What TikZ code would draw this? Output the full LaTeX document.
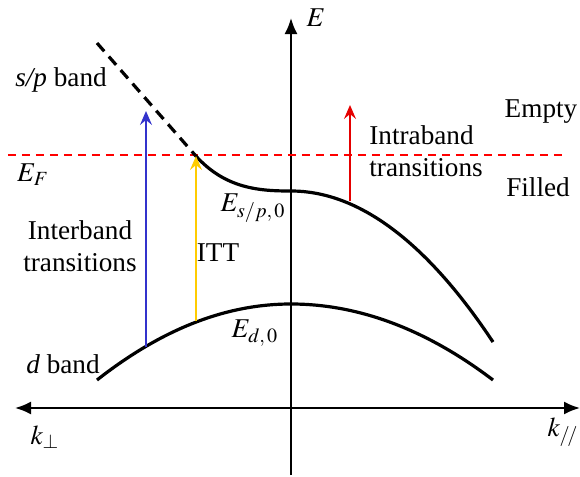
\documentclass[tikz,border=0pt]{standalone}
\usepackage{mathptmx}
\usepackage{fontspec}
\setmainfont{Liberation Serif}
\usepackage{tikz}
\usetikzlibrary{positioning,arrows.meta}

\begin{document}
\begin{tikzpicture}[x=0.5pt,y=-0.5pt,
    font=\fontsize{13.6}{16}\selectfont,
    band/.style={line width=1.6pt},
    axis/.style={line width=1pt},
    trans/.style={line width=0.8pt,-{Stealth[length=7pt,width=6pt,inset=2.5pt]}},
    lbl/.style={inner sep=0pt}]
  \useasboundingbox (0,0) rectangle (580,477);
  % axes
  \coordinate (eb) at (291,475);
  \coordinate (et) at (291,18);
  \coordinate (kl) at (15,408);
  \coordinate (kr) at (580,408);
  \draw[axis,-{Latex[length=8pt,width=6.5pt]}] (eb) -- (et);
  \draw[axis,{Latex[length=8pt,width=6.5pt]}-{Latex[length=8pt,width=6.5pt]}] (kl) -- (kr);
  \node[lbl] (E) at (316,18) {$E$};
  \node[lbl] (kperp) at (45,437) {$k_{\perp}$};
  \node[lbl] (kpar) at (563,432) {$k_{/\!/}$};
  % Fermi level
  \coordinate (fl) at (8,155);
  \coordinate (fr) at (565,155);
  \draw[red,line width=0.8pt,dash pattern=on 4pt off 3pt] (fl) -- (fr);
  \node[lbl] (EF) at (33,175) {$E_F$};
  \node[lbl] (empty) at (541,112) {Empty};
  \node[lbl] (filled) at (538,187) {Filled};
  % s/p band
  \coordinate (sptop) at (97,43);
  \coordinate (spF) at (195,155);
  \coordinate (sp0) at (291,191);
  \coordinate (spend) at (493,342);
  \draw[band,dash pattern=on 5.5pt off 3.5pt] (sptop) -- (spF);
  \draw[band] (spF) .. controls (225,189) and (260,191) .. (sp0)
                    .. controls (358,191) and (426,241) .. (spend);
  \node[lbl] (spband) at (61,80) {\textit{s/p} band};
  \node[lbl] (Esp) at (253,208) {$E_{s/p,\,0}$};
  % d band
  \coordinate (dl) at (97,380);
  \coordinate (d0) at (291,304);
  \coordinate (dr) at (493,380);
  \draw[band] (dl) .. controls (162,329) and (226,304) .. (d0)
                   .. controls (358,304) and (426,329) .. (dr);
  \node[lbl] (dband) at (63,364) {\textit{d} band};
  \node[lbl] (Ed) at (255,333) {$E_{d,\,0}$};
  % transitions
  \coordinate (blo) at (146,347);
  \coordinate (bhi) at (146,111);
  \coordinate (ylo) at (196,321);
  \coordinate (yhi) at (196,156);
  \coordinate (rlo) at (350,201);
  \coordinate (rhi) at (350,105);
  \draw[trans,blue!75!black!80] (blo) -- (bhi);
  \draw[trans,orange!40!yellow] (ylo) -- (yhi);
  \draw[trans,red!90!black] (rlo) -- (rhi);
  \node[lbl,align=center] (inter) at (80,246) {Interband\\transitions};
  \node[lbl] (itt) at (218,253) {ITT};
  \node[lbl,align=left,anchor=west] (intra) at (369,151) {Intraband\\transitions};
\end{tikzpicture}
\end{document}
